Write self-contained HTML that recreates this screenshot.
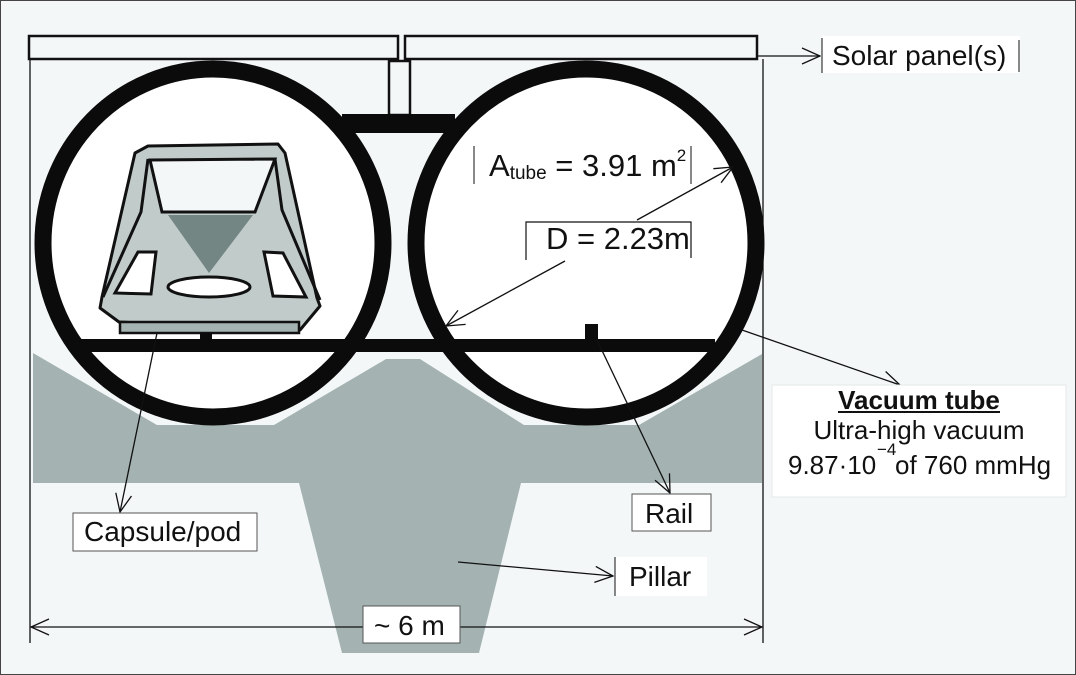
<!DOCTYPE html>
<html><head><meta charset="utf-8"><style>
html,body{margin:0;padding:0;background:#f4f7f8;}
svg{display:block}
text{font-family:"Liberation Sans",Arial,sans-serif;fill:#111}
</style></head><body>
<svg width="1076" height="675" viewBox="0 0 1076 675" xmlns="http://www.w3.org/2000/svg">
<defs>
<marker id="ah2" viewBox="0 0 20 20" refX="19" refY="10" markerWidth="20" markerHeight="20" markerUnits="userSpaceOnUse" orient="auto">
<path d="M1,2 L19,10 L1,18" fill="none" stroke="#111" stroke-width="1.3"/></marker>
</defs>
<rect x="0.5" y="0.5" width="1075" height="674" fill="#f4f7f8" stroke="#444" stroke-width="1"/>
<polygon points="33,353 157,425 274,425 386,359 420,359 524,425 639,425 762,354 762,483 521,483 479,653 342,653 299,483 33,483" fill="#a4b3b1"/>
<line x1="30" y1="59" x2="30" y2="643" stroke="#111" stroke-width="1.3"/>
<line x1="763" y1="59" x2="763" y2="643" stroke="#111" stroke-width="1.3"/>
<rect x="29" y="36" width="369" height="23" fill="#f4f7f8" stroke="#111" stroke-width="2.5"/>
<rect x="405" y="36" width="352" height="23" fill="#f4f7f8" stroke="#111" stroke-width="2.5"/>
<rect x="389" y="61" width="21" height="54" fill="#f4f7f8" stroke="#111" stroke-width="2.5"/>
<ellipse cx="213" cy="243" rx="170" ry="174" fill="#fff" stroke="#f4f7f8" stroke-width="16"/>
<ellipse cx="586" cy="243" rx="170" ry="174" fill="#fff" stroke="#f4f7f8" stroke-width="16"/>
<rect x="342" y="114" width="113" height="19" fill="#0b0b0b"/>
<rect x="80" y="339" width="635" height="13" fill="#0b0b0b"/>
<ellipse cx="213" cy="243" rx="170" ry="174" fill="none" stroke="#0b0b0b" stroke-width="17"/>
<ellipse cx="586" cy="243" rx="170" ry="174" fill="none" stroke="#0b0b0b" stroke-width="17"/>
<rect x="585" y="324" width="13" height="16" fill="#0b0b0b"/>
<polygon points="135,153 148,146 278,144 285,153 317,298 320,306 300,330 119,322 100,308 102,297" fill="#c1cbca" stroke="#111" stroke-width="3" stroke-linejoin="round"/>
<polyline points="148,159 141,212 103,297" fill="none" stroke="#111" stroke-width="3"/>
<polyline points="275,159 282,210 320,300" fill="none" stroke="#111" stroke-width="3"/>
<polygon points="150,160 275,159 255,212 162,212" fill="#f4f7f8" stroke="#111" stroke-width="3"/>
<polygon points="168,215 253,215 209,273" fill="#738684"/>
<polygon points="138,252 156,252 151,294 115,293" fill="#fff" stroke="#111" stroke-width="3"/>
<polygon points="264,252 283,253 306,297 273,296" fill="#fff" stroke="#111" stroke-width="3"/>
<ellipse cx="209" cy="287" rx="41" ry="10" fill="#fff" stroke="#111" stroke-width="3"/>
<rect x="120" y="322" width="179" height="11" fill="#a4b3b1" stroke="#111" stroke-width="2.5"/>
<rect x="200" y="333" width="12" height="7" fill="#0b0b0b"/>
<line x1="474" y1="146" x2="474" y2="184" stroke="#111" stroke-width="1"/>
<line x1="691" y1="146" x2="691" y2="184" stroke="#111" stroke-width="1"/>
<text x="489" y="176" font-size="31">A<tspan font-size="19" dy="3">tube</tspan><tspan dy="-3"> = 3.91 m</tspan><tspan font-size="17" dy="-15">2</tspan></text>
<polyline points="526,260 526,222 691,222 691,258" fill="none" stroke="#111" stroke-width="1.2"/>
<text x="546" y="249" font-size="31">D = 2.23m</text>
<line x1="637" y1="220" x2="733" y2="167" stroke="#111" stroke-width="1.3" marker-end="url(#ah2)"/>
<line x1="565" y1="261" x2="446" y2="326" stroke="#111" stroke-width="1.3" marker-end="url(#ah2)"/>
<line x1="757" y1="56" x2="820" y2="56" stroke="#111" stroke-width="1.3" marker-end="url(#ah2)"/>
<rect x="822" y="36" width="198" height="37" fill="#fff"/>
<line x1="822" y1="38" x2="822" y2="73" stroke="#111"/>
<line x1="1019" y1="40" x2="1019" y2="72" stroke="#111"/>
<text x="832" y="65" font-size="28">Solar panel(s)</text>
<line x1="742" y1="330" x2="900" y2="385" stroke="#111" stroke-width="1.3" marker-end="url(#ah2)"/>
<rect x="772" y="385" width="294" height="112" fill="#fff" stroke="#e4e8e8" stroke-width="1"/>
<text x="919" y="409" font-size="26" font-weight="bold" text-anchor="middle">Vacuum tube</text>
<line x1="838" y1="412" x2="1000" y2="412" stroke="#111" stroke-width="2"/>
<text x="919" y="439" font-size="26" text-anchor="middle">Ultra-high vacuum</text>
<text x="788" y="474" font-size="26">9.87·10</text>
<text x="877" y="455" font-size="17">−4</text>
<text x="895" y="474" font-size="26">of 760 mmHg</text>
<line x1="157" y1="333" x2="120" y2="512" stroke="#111" stroke-width="1.3" marker-end="url(#ah2)"/>
<rect x="73" y="513" width="184" height="38" fill="#fff" stroke="#555" stroke-width="1"/>
<text x="84" y="541" font-size="28">Capsule/pod</text>
<line x1="597" y1="340" x2="670" y2="493" stroke="#111" stroke-width="1.3" marker-end="url(#ah2)"/>
<rect x="632" y="494" width="79" height="37" fill="#fff" stroke="#555" stroke-width="1"/>
<text x="645" y="523" font-size="28">Rail</text>
<line x1="458" y1="562" x2="613" y2="576" stroke="#111" stroke-width="1.3" marker-end="url(#ah2)"/>
<rect x="615" y="557" width="92" height="39" fill="#fff"/>
<line x1="615" y1="557" x2="615" y2="596" stroke="#111"/>
<text x="629" y="586" font-size="28">Pillar</text>
<line x1="460" y1="627" x2="762" y2="627" stroke="#111" stroke-width="1.3" marker-end="url(#ah2)"/>
<line x1="363" y1="627" x2="31" y2="627" stroke="#111" stroke-width="1.3" marker-end="url(#ah2)"/>
<rect x="363" y="606" width="97" height="37" fill="#fff" stroke="#555" stroke-width="1"/>
<text x="374" y="635" font-size="28">~ 6 m</text>
</svg>
</body></html>
